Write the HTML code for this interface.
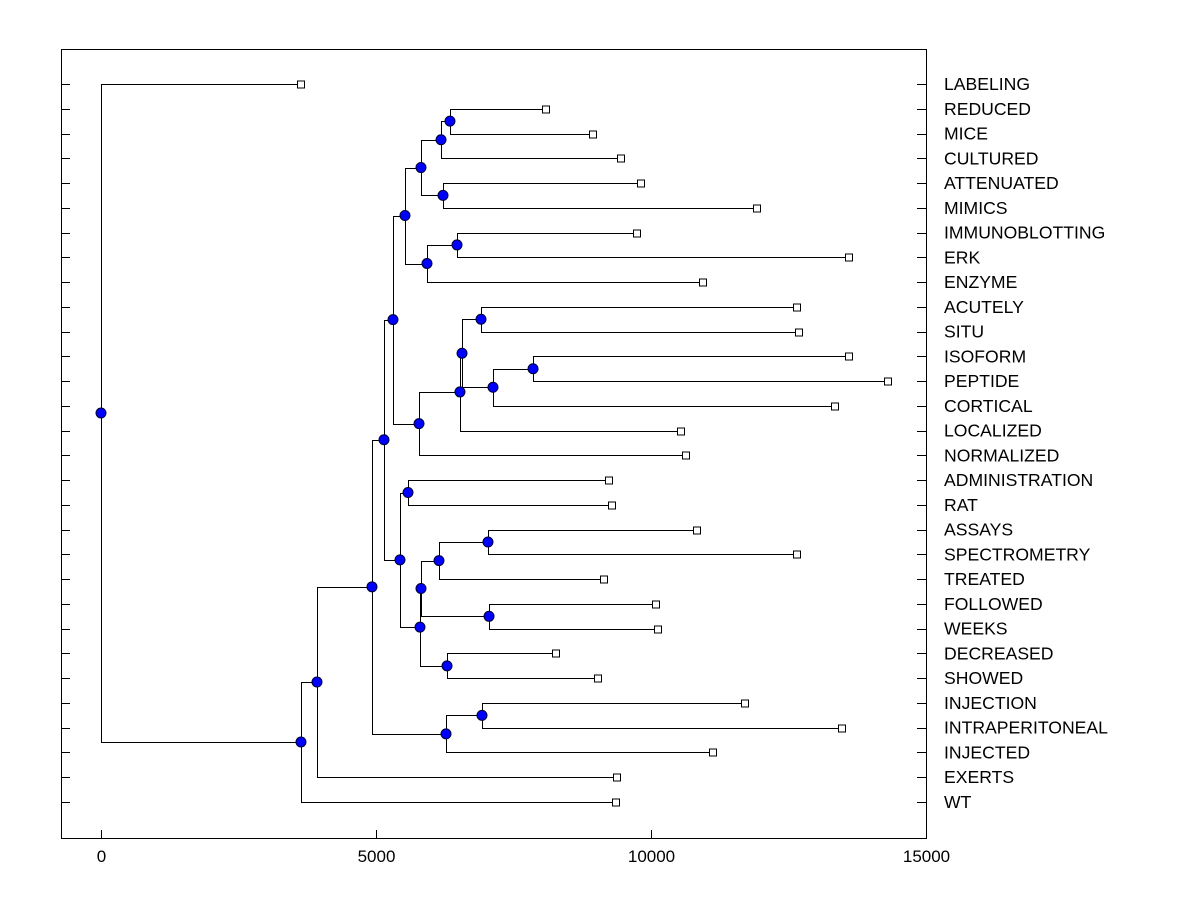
<!DOCTYPE html>
<html><head><meta charset="utf-8"><style>body{margin:0;background:#fff}svg text{font-family:"Liberation Sans",Arial,sans-serif}</style></head>
<body>
<svg id="chart" width="1200" height="900" xmlns="http://www.w3.org/2000/svg"></svg>
<script>
const leafNames=["LABELING","REDUCED","MICE","CULTURED","ATTENUATED","MIMICS","IMMUNOBLOTTING","ERK","ENZYME","ACUTELY","SITU","ISOFORM","PEPTIDE","CORTICAL","LOCALIZED","NORMALIZED","ADMINISTRATION","RAT","ASSAYS","SPECTROMETRY","TREATED","FOLLOWED","WEEKS","DECREASED","SHOWED","INJECTION","INTRAPERITONEAL","INJECTED","EXERTS","WT"];
const leafValues=[3636,8091,8945,9455,9818,11927,9745,13600,10945,12655,12691,13600,14309,13345,10545,10636,9236,9291,10836,12655,9145,10091,10127,8273,9036,11709,13473,11127,9382,9364];
const nodeIds=["O","M","N","K","P","L","I","S","U","T","R","Q","J","G","V","AB","Z","AA","X","Y","W","H","D","F","E","C","B","A","root"];
const nodeHeights=[6345,6182,6218,5818,6473,5927,5527,6909,7855,7127,6564,6527,5782,5309,5582,7036,6145,7055,5818,6291,5800,5436,5145,6927,6273,4927,3927,3636,0];
const nodeChildren=[["REDUCED","MICE"],["O","CULTURED"],["ATTENUATED","MIMICS"],["M","N"],["IMMUNOBLOTTING","ERK"],["P","ENZYME"],["K","L"],["ACUTELY","SITU"],["ISOFORM","PEPTIDE"],["U","CORTICAL"],["S","T"],["R","LOCALIZED"],["Q","NORMALIZED"],["I","J"],["ADMINISTRATION","RAT"],["ASSAYS","SPECTROMETRY"],["AB","TREATED"],["FOLLOWED","WEEKS"],["Z","AA"],["DECREASED","SHOWED"],["X","Y"],["V","W"],["G","H"],["INJECTION","INTRAPERITONEAL"],["F","INJECTED"],["D","E"],["C","EXERTS"],["B","WT"],["LABELING","A"]];
const xTicks=[0,5000,10000,15000];

const svg=document.getElementById('chart');const NS="http://www.w3.org/2000/svg";
const L=61,R=926,T=49,B=838;
const sx=v=>101+v*(651-101)/10000;
const sy=i=>84+i*(802-84)/29;
function el(tag,attrs,parent){const e=document.createElementNS(NS,tag);for(const k in attrs)e.setAttribute(k,attrs[k]);(parent||svg).appendChild(e);return e;}
const frame=el('rect',{x:L+.5,y:T+.5,width:R-L,height:B-T,fill:'none',stroke:'#000'});


const pos={};
leafNames.forEach((n,i)=>{pos[n]={x:sx(leafValues[i]),y:sy(i)};});
const lines=el('g',{stroke:'#000','stroke-width':1,fill:'none'});


const dots=[];
nodeIds.forEach((id,k)=>{
  const x=sx(nodeHeights[k]);const a=pos[nodeChildren[k][0]],b=pos[nodeChildren[k][1]];
  const y=(a.y+b.y)/2;pos[id]={x,y};
  const p=el('path',{d:`M${a.x},${Math.round(a.y)+.5}H${Math.round(x)+.5}V${Math.round(b.y)+.5}H${b.x}`},lines);
  
  
  dots.push([x,y,id]);
});
dots.forEach(([x,y,id])=>{const c=el('circle',{cx:x,cy:y,r:5,fill:'#0000ff',stroke:'#000033','stroke-width':1});

});
leafNames.forEach((n,i)=>{
  const p=pos[n];const y=Math.round(p.y)+.5;
  const s=el('rect',{x:Math.round(p.x)-3.5,y:y-3.5,width:7,height:7,fill:'#fff',stroke:'#000'});
  
  
  const t1=el('line',{x1:L,x2:L+9,y1:y,y2:y,stroke:'#000'});
  
  
  const t2=el('line',{x1:R-9,x2:R,y1:y,y2:y,stroke:'#000'});
  
  
  const tx=el('text',{x:944,y:p.y+6,'font-size':17.6,fill:'#000'});tx.textContent=n;
  
  
});
xTicks.forEach(v=>{const x=Math.round(sx(v))+.5;
  const t=el('line',{x1:x,x2:x,y1:B-8,y2:B,stroke:'#000'});
  
  
  const tx=el('text',{x:x,y:862,'font-size':17,'text-anchor':'middle'});tx.textContent=v;
  
  
});
</script>
</body></html>
